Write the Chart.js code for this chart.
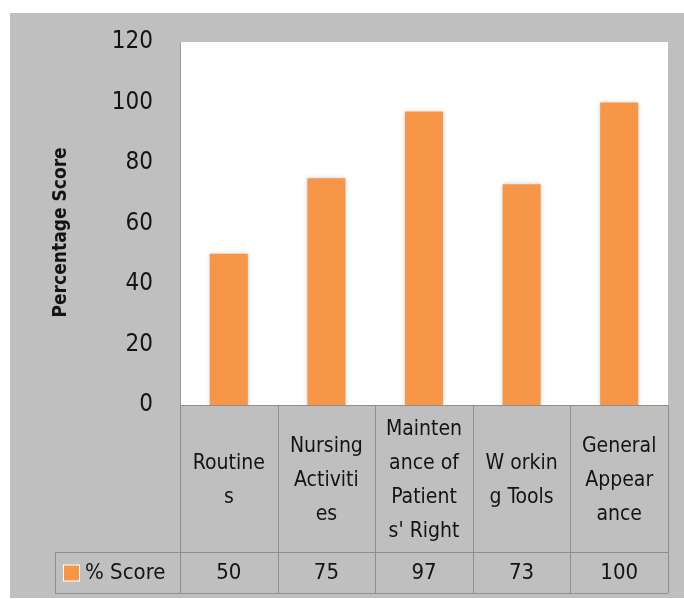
<!DOCTYPE html>
<html>
<head>
<meta charset="utf-8">
<script src="https://cdn.jsdelivr.net/npm/chart.js@4.4.1/dist/chart.umd.min.js"></script>
<style>
  html, body { margin: 0; padding: 0; background: #ffffff; }
  #wrap { width: 684px; height: 599px; }
</style>
</head>
<body>
<div id="wrap"><canvas id="c" width="684" height="599"></canvas></div>
<script>
// Category names, broken over lines the way the table cells show them
const categoryLines = [
  ["Routine", "s"],
  ["Nursing", "Activiti", "es"],
  ["Mainten", "ance of", "Patient", "s' Right"],
  ["W orkin", "g Tools"],
  ["General", "Appear", "ance"]
];
const scoreValues = [50, 75, 97, 73, 100];
const seriesName = "% Score";
const yMin = 0;
const yMax = 120;
const yStep = 20;

const FONT = "'Liberation Sans Narrow', 'DejaVu Sans Condensed', 'Roboto Condensed', sans-serif";
const BAR = '#F79646';
const FRAME = '#BFBFBF';
const LINE = '#8E8E8E';
const INK = '#141414';

// Gray frame, white plotting area, soft bar shadow and the data table below the plot
const framePlugin = {
  id: 'frame',
  beforeDraw(chart) {
    const { ctx, chartArea: a } = chart;
    ctx.save();
    ctx.fillStyle = '#ffffff';
    ctx.fillRect(0, 0, chart.width, chart.height);
    ctx.fillStyle = FRAME;
    ctx.fillRect(10, 13, chart.width - 10, chart.height - 14);
    ctx.fillStyle = '#ffffff';
    ctx.fillRect(a.left, a.top, a.right - a.left, a.bottom - a.top);
    ctx.restore();
  },
  beforeDatasetDraw(chart) {
    const ctx = chart.ctx;
    ctx.save();
    ctx.shadowColor = 'rgba(90,110,140,0.35)';
    ctx.shadowBlur = 4;
    ctx.shadowOffsetX = 0;
    ctx.shadowOffsetY = 0;
  },
  afterDatasetDraw(chart) {
    chart.ctx.restore();
  },
  afterDraw(chart) {
    const { ctx, chartArea: a } = chart;
    const xs = chart.scales.x;
    const labels = chart.data.labels;
    const values = chart.data.datasets[0].data;
    const n = labels.length;
    const colW = (a.right - a.left) / n;
    const catTop = a.bottom;
    const catBottom = 552;
    const rowBottom = 593;
    const keyLeft = 55;

    ctx.save();
    ctx.strokeStyle = LINE;
    ctx.lineWidth = 1;
    ctx.beginPath();
    // horizontal rules
    ctx.moveTo(a.left, catTop + 0.5); ctx.lineTo(a.right, catTop + 0.5);
    ctx.moveTo(keyLeft, catBottom + 0.5); ctx.lineTo(a.right, catBottom + 0.5);
    ctx.moveTo(keyLeft, rowBottom + 0.5); ctx.lineTo(a.right, rowBottom + 0.5);
    // column separators
    for (let i = 0; i <= n; i++) {
      const x = Math.round(i < n ? xs.getPixelForValue(i) - colW / 2 : xs.getPixelForValue(n - 1) + colW / 2) + 0.5;
      ctx.moveTo(x, catTop); ctx.lineTo(x, rowBottom);
    }
    ctx.moveTo(keyLeft + 0.5, catBottom); ctx.lineTo(keyLeft + 0.5, rowBottom);
    ctx.stroke();

    // category names
    ctx.fillStyle = INK;
    ctx.textAlign = 'center';
    ctx.textBaseline = 'middle';
    ctx.font = '21px ' + FONT;
    const lh = 34;
    const mid = (catTop + catBottom) / 2 + 2;
    labels.forEach((lines, i) => {
      const cx = xs.getPixelForValue(i);
      const y0 = mid - (lines.length - 1) * lh / 2;
      lines.forEach((t, k) => ctx.fillText(t, cx, y0 + k * lh));
    });

    // values row
    const rowMid = (catBottom + rowBottom) / 2 + 1;
    ctx.font = '22px ' + FONT;
    values.forEach((v, i) => ctx.fillText(String(v), xs.getPixelForValue(i), rowMid));

    // legend key
    ctx.fillStyle = '#ffffff';
    ctx.fillRect(63, rowMid - 9, 17, 17);
    ctx.fillStyle = BAR;
    ctx.fillRect(64, rowMid - 8, 15, 15);
    ctx.fillStyle = INK;
    ctx.textAlign = 'left';
    ctx.font = '22px ' + FONT;
    ctx.fillText(chart.data.datasets[0].label, 85, rowMid);
    ctx.restore();
  }
};

new Chart(document.getElementById('c'), {
  type: 'bar',
  data: {
    labels: categoryLines,
    datasets: [{
      label: seriesName,
      data: scoreValues,
      backgroundColor: BAR,
      borderWidth: 0,
      categoryPercentage: 1.0,
      barPercentage: 0.39
    }]
  },
  options: {
    responsive: false,
    animation: false,
    devicePixelRatio: 1,
    layout: { padding: { left: 0, right: 16, top: 42, bottom: 6 } },
    plugins: {
      legend: { display: false },
      tooltip: { enabled: false },
      title: { display: false }
    },
    scales: {
      x: {
        grid: { display: false, drawTicks: false },
        border: { display: false },
        ticks: { display: false },
        afterFit(scale) { scale.height = 188; }
      },
      y: {
        min: yMin,
        max: yMax,
        grid: { display: false, drawTicks: false },
        border: { display: true, color: '#9A9A9A', width: 1 },
        ticks: {
          stepSize: yStep,
          padding: 27,
          color: INK,
          font: { family: FONT, size: 24 }
        },
        title: {
          display: true,
          // trailing spaces nudge the rotated title a little lower along the axis
          text: 'Percentage Score   ',
          color: INK,
          font: { family: FONT, size: 19, weight: 'bold' },
          padding: { top: 50, bottom: 0 }
        },
        afterFit(scale) { scale.width = 180; }
      }
    }
  },
  plugins: [framePlugin]
});
</script>
</body>
</html>
